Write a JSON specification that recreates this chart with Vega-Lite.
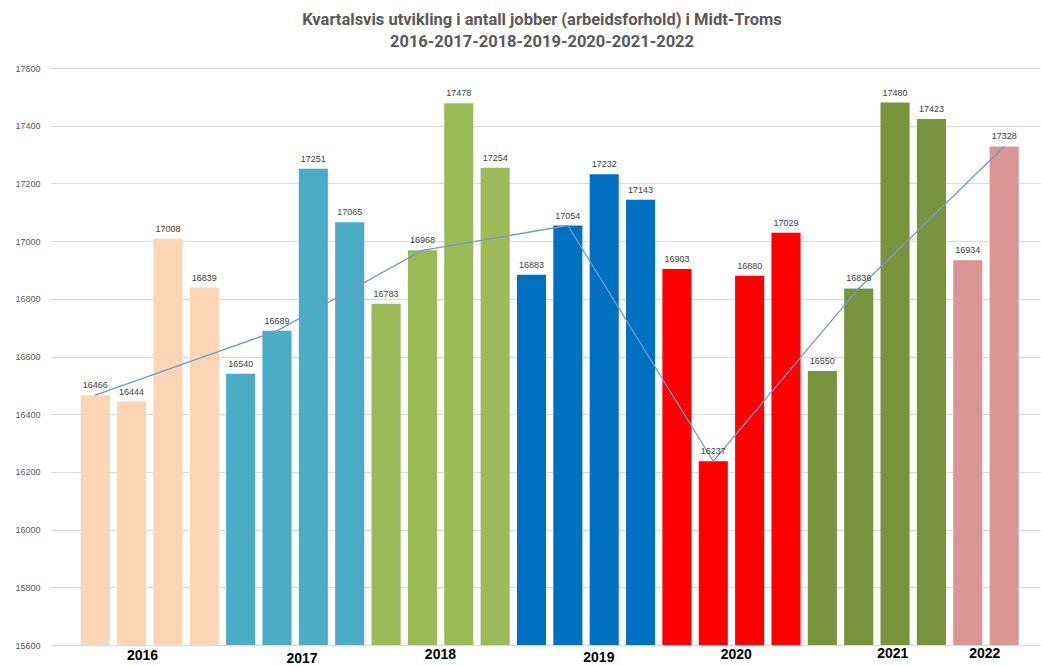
{
  "$schema": "https://vega.github.io/schema/vega-lite/v6.json",
  "width": 990,
  "height": 577,
  "autosize": {"type": "none"},
  "padding": {"left": 50, "top": 68, "right": 2, "bottom": 21},
  "background": "white",
  "title": {
    "text": ["Kvartalsvis utvikling i antall jobber (arbeidsforhold) i Midt-Troms", "2016-2017-2018-2019-2020-2021-2022"],
    "font": "Roboto",
    "fontSize": 16.5,
    "fontWeight": "bold",
    "color": "#595959",
    "lineHeight": 22,
    "anchor": "middle",
    "dx": -3,
    "offset": 14
  },
  "data": {
    "values": [
      {"q": "2016-1", "year": "2016", "value": 16466, "trend": true},
      {"q": "2016-2", "year": "2016", "value": 16444, "trend": false},
      {"q": "2016-3", "year": "2016", "value": 17008, "trend": false},
      {"q": "2016-4", "year": "2016", "value": 16839, "trend": false},
      {"q": "2017-1", "year": "2017", "value": 16540, "trend": false},
      {"q": "2017-2", "year": "2017", "value": 16689, "trend": true},
      {"q": "2017-3", "year": "2017", "value": 17251, "trend": false},
      {"q": "2017-4", "year": "2017", "value": 17065, "trend": false},
      {"q": "2018-1", "year": "2018", "value": 16783, "trend": false},
      {"q": "2018-2", "year": "2018", "value": 16968, "trend": true},
      {"q": "2018-3", "year": "2018", "value": 17478, "trend": false},
      {"q": "2018-4", "year": "2018", "value": 17254, "trend": false},
      {"q": "2019-1", "year": "2019", "value": 16883, "trend": false},
      {"q": "2019-2", "year": "2019", "value": 17054, "trend": true},
      {"q": "2019-3", "year": "2019", "value": 17232, "trend": false},
      {"q": "2019-4", "year": "2019", "value": 17143, "trend": false},
      {"q": "2020-1", "year": "2020", "value": 16903, "trend": false},
      {"q": "2020-2", "year": "2020", "value": 16237, "trend": true},
      {"q": "2020-3", "year": "2020", "value": 16880, "trend": false},
      {"q": "2020-4", "year": "2020", "value": 17029, "trend": false},
      {"q": "2021-1", "year": "2021", "value": 16550, "trend": false},
      {"q": "2021-2", "year": "2021", "value": 16836, "trend": true},
      {"q": "2021-3", "year": "2021", "value": 17480, "trend": false},
      {"q": "2021-4", "year": "2021", "value": 17423, "trend": false},
      {"q": "2022-1", "year": "2022", "value": 16934, "trend": false},
      {"q": "2022-2", "year": "2022", "value": 17328, "trend": true}
    ]
  },
  "encoding": {
    "x": {
      "field": "q",
      "type": "nominal",
      "sort": null,
      "scale": {"paddingInner": 0.2, "paddingOuter": 0.715, "align": 0.59},
      "axis": {
        "title": null,
        "domain": false,
        "ticks": false,
        "grid": false,
        "labelAngle": 0,
        "labelFont": "Liberation Sans",
        "labelFontSize": 14,
        "labelFontWeight": "bold",
        "labelColor": "#000000",
        "labelOverlap": false,
        "labelBound": false,
        "labelExpr": "indexof(['2016-2','2017-2','2018-2','2019-2','2020-2','2021-2','2022-1'], datum.value) >= 0 ? substring(datum.value, 0, 4) : ''",
        "labelOffset": {
          "condition": [
            {"test": "datum.value === '2016-2'", "value": 11},
            {"test": "datum.value === '2017-2'", "value": 25},
            {"test": "datum.value === '2018-2'", "value": 18},
            {"test": "datum.value === '2019-2'", "value": 31},
            {"test": "datum.value === '2020-2'", "value": 23},
            {"test": "datum.value === '2021-2'", "value": 34},
            {"test": "datum.value === '2022-1'", "value": 17}
          ],
          "value": 0
        },
        "labelPadding": {
          "condition": [
            {"test": "datum.value === '2016-2'", "value": 3},
            {"test": "datum.value === '2017-2'", "value": 6},
            {"test": "datum.value === '2018-2'", "value": 2},
            {"test": "datum.value === '2019-2'", "value": 5},
            {"test": "datum.value === '2020-2'", "value": 2}
          ],
          "value": 1
        }
      }
    }
  },
  "layer": [
    {
      "mark": {"type": "bar"},
      "encoding": {
        "y": {
          "field": "value",
          "type": "quantitative",
          "scale": {"domain": [15600, 17600], "nice": false, "zero": false},
          "axis": {
            "title": null,
            "format": "d",
            "values": [15600, 15800, 16000, 16200, 16400, 16600, 16800, 17000, 17200, 17400, 17600],
            "domain": false,
            "ticks": false,
            "grid": true,
            "gridColor": "#D9D9D9",
            "gridWidth": 1,
            "labelFont": "Liberation Sans",
            "labelFontSize": 9,
            "labelColor": "#595959",
            "labelPadding": 10
          }
        },
        "y2": {"datum": 15600},
        "color": {
          "field": "year",
          "type": "nominal",
          "legend": null,
          "scale": {
            "domain": ["2016", "2017", "2018", "2019", "2020", "2021", "2022"],
            "range": ["#FCD5B5", "#4BACC6", "#9BBB59", "#0070C0", "#FF0000", "#77933C", "#D99694"]
          }
        }
      }
    },
    {
      "transform": [{"filter": "datum.trend"}],
      "mark": {"type": "line", "color": "#6F9BD1", "strokeWidth": 1.3},
      "encoding": {
        "y": {"field": "value", "type": "quantitative"}
      }
    },
    {
      "mark": {"type": "text", "baseline": "bottom", "dy": -5, "font": "Liberation Sans", "fontSize": 9, "color": "#404040"},
      "encoding": {
        "y": {"field": "value", "type": "quantitative"},
        "text": {"field": "value", "type": "quantitative", "format": "d"}
      }
    }
  ],
  "config": {"view": {"stroke": null}}
}
